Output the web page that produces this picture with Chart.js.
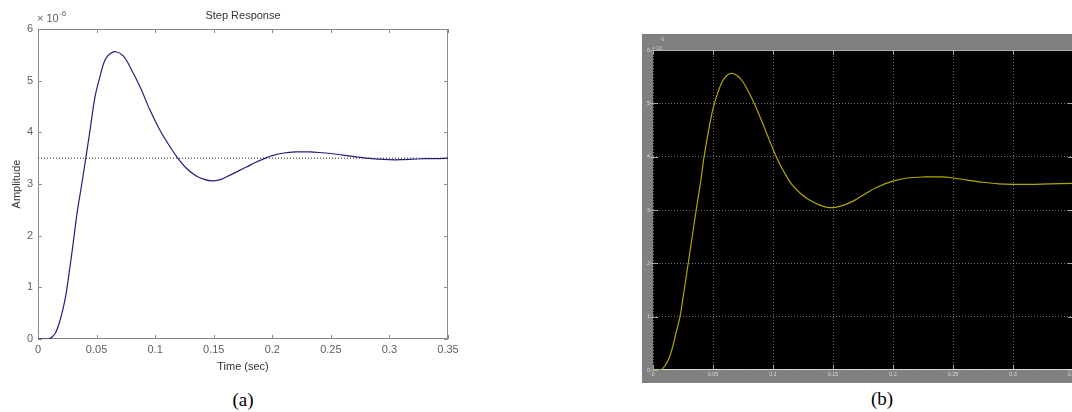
<!DOCTYPE html>
<html><head><meta charset="utf-8">
<script src="https://cdn.jsdelivr.net/npm/chart.js@4.4.1/dist/chart.umd.min.js"></script>
<style>
html,body{margin:0;padding:0;background:#fff;width:1072px;height:412px;overflow:hidden;position:relative}
#ca{position:absolute;left:0;top:0}
#cb{position:absolute;left:642px;top:34px;background:#808080}
.cap{position:absolute;font-family:"Liberation Serif","Times New Roman",serif;font-size:19px;line-height:22px;color:#000;transform:translateX(-50%)}
</style></head><body>
<canvas id="ca" width="470" height="380"></canvas>
<canvas id="cb" width="440" height="349"></canvas>
<div class="cap" style="left:243px;top:389px">(a)</div>
<div class="cap" style="left:882px;top:388px">(b)</div>
<script>
// ---- data (a): MATLAB step response ----
const timeA = [0,0.005,0.009,0.012,0.015,0.018,0.021,0.024,0.027,0.030,0.0335,0.0373,0.041,0.0444,0.0487,0.0529,0.0572,0.0615,0.0666,0.0728,0.0785,0.0871,0.0956,0.1041,0.1127,0.1184,0.1269,0.1355,0.1420,0.1483,0.155,0.161,0.170,0.178,0.186,0.194,0.200,0.210,0.220,0.232,0.240,0.250,0.260,0.270,0.280,0.290,0.300,0.310,0.320,0.330,0.340,0.350];
const ampA  = [0,0,0,0.04,0.12,0.30,0.55,0.88,1.35,1.85,2.46,2.99,3.53,4.04,4.69,5.08,5.40,5.52,5.56,5.48,5.27,4.88,4.43,4.04,3.72,3.53,3.30,3.15,3.09,3.06,3.08,3.14,3.24,3.33,3.42,3.50,3.55,3.60,3.62,3.62,3.61,3.59,3.56,3.53,3.50,3.48,3.47,3.47,3.48,3.49,3.49,3.50];
const steadyA = 3.5;
// ---- data (b): scope trace ----
const timeB = [0,0.004,0.007,0.010,0.013,0.016,0.019,0.0225,0.026,0.030,0.033,0.036,0.0395,0.0426,0.046,0.050,0.054,0.058,0.062,0.0656,0.070,0.075,0.080,0.085,0.090,0.095,0.100,0.105,0.110,0.116,0.1225,0.130,0.138,0.145,0.152,0.160,0.168,0.178,0.188,0.200,0.212,0.227,0.240,0.250,0.262,0.275,0.288,0.300,0.315,0.330,0.350];
const ampB  = [0,0,0.01,0.08,0.20,0.40,0.68,1.00,1.50,2.10,2.55,3.00,3.50,4.00,4.45,4.90,5.20,5.42,5.53,5.56,5.52,5.40,5.20,4.97,4.70,4.42,4.14,3.89,3.68,3.47,3.32,3.19,3.10,3.05,3.05,3.10,3.18,3.32,3.44,3.54,3.60,3.62,3.62,3.60,3.56,3.52,3.49,3.48,3.48,3.49,3.50];
// ---- ticks ----
const xTicks = [0,0.05,0.1,0.15,0.2,0.25,0.3,0.35];
const xTickLabels = ['0','0.05','0.1','0.15','0.2','0.25','0.3','0.35'];
const yTicks = [0,1,2,3,4,5,6];
const yTickLabels = ['0','1','2','3','4','5','6'];
const titleA = 'Step Response', xTitleA = 'Time (sec)', yTitleA = 'Amplitude';
const expBase = '× 10', expPow = '-6';

const framePlugin = {
  id:'frame',
  beforeDraw(chart, args, o){
    if(!o.bg) return;
    const a = chart.chartArea, ctx = chart.ctx;
    ctx.save(); ctx.fillStyle = o.bg;
    ctx.fillRect(a.left, a.top, a.right-a.left, a.bottom-a.top);
    ctx.restore();
  },
  beforeDatasetsDraw(chart, args, o){
    const {ctx, chartArea:a, scales:{x, y}} = chart;
    ctx.save();
    ctx.lineWidth = 1;
    ctx.strokeStyle = o.tickColor;
    ctx.beginPath();
    x.ticks.forEach(t => {
      const px = Math.round(x.getPixelForValue(t.value)) + 0.5;
      ctx.moveTo(px, a.bottom); ctx.lineTo(px, a.bottom - o.tickLen);
      ctx.moveTo(px, a.top); ctx.lineTo(px, a.top + o.tickLen);
    });
    y.ticks.forEach(t => {
      const py = Math.round(y.getPixelForValue(t.value)) + 0.5;
      ctx.moveTo(a.left - (o.tickOut||0), py); ctx.lineTo(a.left + o.tickLen, py);
      ctx.moveTo(a.right, py); ctx.lineTo(a.right - o.tickLen, py);
    });
    ctx.stroke();
    const b = o.borders;
    const line = (c, x1, y1, x2, y2) => { if(!c) return; ctx.strokeStyle = c; ctx.beginPath(); ctx.moveTo(x1,y1); ctx.lineTo(x2,y2); ctx.stroke(); };
    line(b.top, a.left, a.top+0.5, a.right, a.top+0.5);
    line(b.bottom, a.left, a.bottom-0.5, a.right, a.bottom-0.5);
    line(b.left, a.left+0.5, a.top, a.left+0.5, a.bottom);
    line(b.right, a.right-0.5, a.top, a.right-0.5, a.bottom);
    // exponent label
    const e = o.exp;
    ctx.fillStyle = e.color;
    ctx.textBaseline = 'alphabetic'; ctx.textAlign = 'left';
    ctx.font = e.size + 'px "Liberation Sans", Arial, sans-serif';
    ctx.fillText(expBase, e.x, e.y);
    ctx.font = e.supSize + 'px "Liberation Sans", Arial, sans-serif';
    ctx.fillText(expPow, e.sx, e.sy);
    ctx.restore();
  }
};

const pts = (t, v) => t.map((tt, i) => ({x: tt, y: v[i]}));
const setTicks = vals => scale => { scale.ticks = vals.map(v => ({value: v})); };

Chart.defaults.font.family = '"Liberation Sans", Arial, sans-serif';

// ---------- Chart (a) ----------
new Chart(document.getElementById('ca'), {
  type: 'line',
  data: { datasets: [
    { data: pts(timeA, ampA), borderColor: '#20207a', borderWidth: 1.2, pointRadius: 0, tension: 0.35, fill: false },
    { data: [{x: xTicks[0], y: steadyA}, {x: xTicks[xTicks.length-1], y: steadyA}], borderColor: '#222', borderWidth: 1, borderDash: [1,2], pointRadius: 0, fill: false }
  ]},
  options: {
    responsive: false, animation: false, devicePixelRatio: 1,
    layout: { padding: { top: 0, left: 0, right: 22, bottom: 0 } },
    plugins: {
      legend: { display: false }, tooltip: { enabled: false },
      title: { display: true, text: titleA, fullSize: false, color: '#333', font: { size: 11, weight: 'normal' }, padding: { top: 9.4, bottom: 6.4 } },
      frame: { tickColor: '#8a8a8a', tickLen: 4, borders: { top: '#8a8a8a', bottom: '#8a8a8a', left: '#8a8a8a', right: '#8a8a8a' },
               exp: { color: '#606060', size: 11, x: 37, y: 22, supSize: 8, sx: 59, sy: 16 } }
    },
    scales: {
      x: { type: 'linear', min: 0, max: 0.35,
           afterBuildTicks: setTicks(xTicks),
           afterFit: s => { s.height = 41; },
           grid: { display: false, drawTicks: false }, border: { display: false },
           ticks: { color: '#606060', font: { size: 11 }, padding: 4, maxRotation: 0, autoSkip: false, callback: (v, i) => xTickLabels[i] },
           title: { display: true, text: xTitleA, color: '#333', font: { size: 11 }, padding: { top: 0, bottom: 6.4 } } },
      y: { type: 'linear', min: 0, max: 6,
           afterBuildTicks: setTicks(yTicks),
           afterFit: s => { s.width = 38; },
           grid: { display: false, drawTicks: false }, border: { display: false },
           ticks: { color: '#606060', font: { size: 11 }, padding: 5, autoSkip: false, callback: (v, i) => yTickLabels[i] },
           title: { display: true, text: yTitleA, color: '#333', font: { size: 11 }, padding: { top: 10.4, bottom: 0 } } }
    }
  },
  plugins: [framePlugin]
});

// ---------- Chart (b) ----------
new Chart(document.getElementById('cb'), {
  type: 'line',
  data: { datasets: [
    { data: pts(timeB, ampB), borderColor: '#b0a800', borderWidth: 1.2, pointRadius: 0, tension: 0.35, fill: false }
  ]},
  options: {
    responsive: false, animation: false, devicePixelRatio: 1,
    layout: { padding: { top: 16, left: 0, right: 9, bottom: 0 } },
    plugins: {
      legend: { display: false }, tooltip: { enabled: false }, title: { display: false },
      frame: { bg: '#000', tickColor: '#a8a8a8', tickLen: 5, tickOut: 3,
               borders: { top: '#b0b0b0', bottom: '#d8d8d8' },
               exp: { color: '#d0d0d0', size: 5, x: 10, y: 16, supSize: 4.5, sx: 18, sy: 7 } }
    },
    scales: {
      x: { type: 'linear', min: 0, max: 0.35,
           afterBuildTicks: setTicks(xTicks),
           afterFit: s => { s.height = 13; },
           grid: { display: true, drawTicks: false, color: 'rgba(150,150,150,0.75)', lineWidth: 1 },
           border: { display: false, dash: [1,2] },
           ticks: { color: '#d8d8d8', font: { size: 5.5 }, padding: 1, maxRotation: 0, autoSkip: false, callback: (v, i) => xTickLabels[i] } },
      y: { type: 'linear', min: 0, max: 6,
           afterBuildTicks: setTicks(yTicks),
           afterFit: s => { s.width = 11; },
           grid: { display: true, drawTicks: false, color: 'rgba(150,150,150,0.75)', lineWidth: 1 },
           border: { display: false, dash: [1,2] },
           ticks: { color: '#d8d8d8', font: { size: 5.5 }, padding: 3, autoSkip: false, callback: (v, i) => yTickLabels[i] } }
    }
  },
  plugins: [framePlugin]
});
</script>
</body></html>
